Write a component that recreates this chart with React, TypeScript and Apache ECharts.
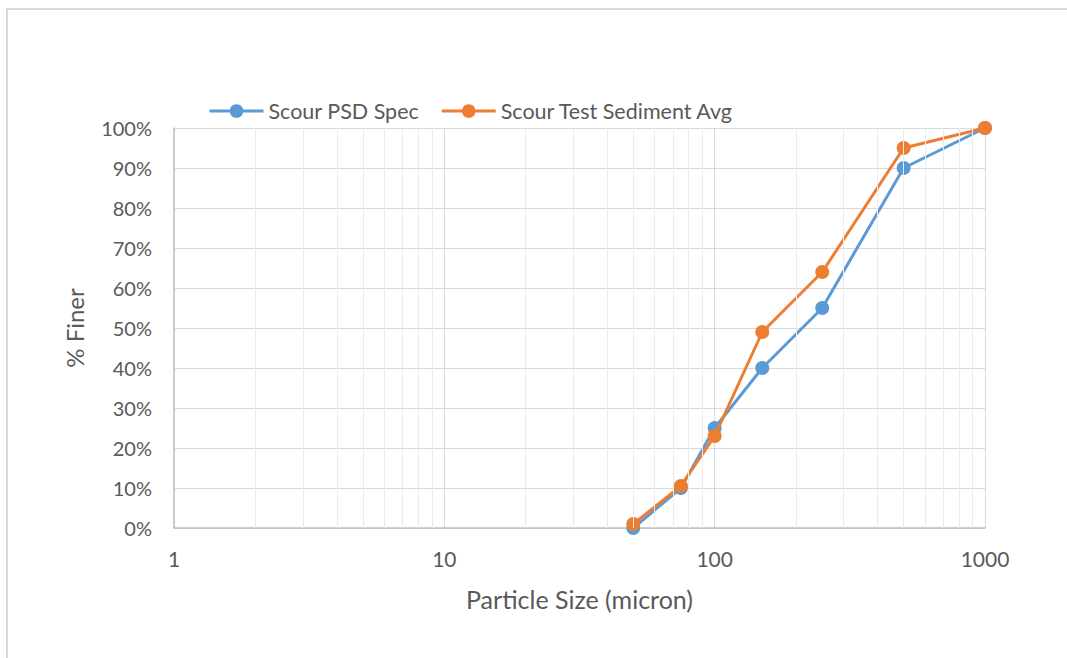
import React, { useEffect, useRef } from "react";
import * as echarts from "echarts";

const sizes = [50, 75, 100, 150, 250, 500, 1000];
const psdSpec = [0, 10, 25, 40, 55, 90, 100];
const testAvg = [1, 10.5, 23, 49, 64, 95, 100];
const xTickLabels = ["1", "10", "100", "1000"];
const minorGrid = [2, 3, 4, 5, 6, 7, 8, 9, 20, 30, 40, 50, 60, 70, 80, 90, 200, 300, 400, 500, 600, 700, 800, 900];

const FONT = "Lato, 'Open Sans', sans-serif";
const TXT = "#595959";

export default function App() {
  const ref = useRef<HTMLDivElement>(null);
  useEffect(() => {
    if (!ref.current) return;
    const chart = echarts.init(ref.current, undefined, { renderer: "svg" });
    chart.setOption({
      animation: false,
      backgroundColor: "#ffffff",
      textStyle: { fontFamily: FONT },
      graphic: [
        {
          type: "rect",
          shape: { x: 7, y: 9, width: 1100, height: 700 },
          style: { fill: "none", stroke: "#d9d9d9", lineWidth: 2 },
          silent: true,
        },
      ],
      legend: {
        top: 100,
        left: 208,
        padding: 0,
        itemWidth: 54,
        itemHeight: 17,
        itemGap: 21,
        lineStyle: { width: 3 },
        textStyle: { fontFamily: FONT, fontSize: 21.5, color: TXT },
        data: ["Scour PSD Spec", "Scour Test Sediment Avg"],
      },
      grid: { left: 174, right: 82, top: 128, bottom: 130, containLabel: false },
      xAxis: {
        type: "log",
        logBase: 10,
        min: 1,
        max: 1000,
        name: "Particle Size (micron)",
        nameLocation: "middle",
        nameGap: 58,
        nameTextStyle: { fontFamily: FONT, fontSize: 25, color: TXT },
        axisLine: { lineStyle: { color: "#bfbfbf", width: 1.5 } },
        axisTick: { show: false },
        axisLabel: {
          fontFamily: FONT,
          fontSize: 21,
          color: TXT,
          margin: 20,
          formatter: (v: number) => {
            const s = String(Math.round(v));
            return xTickLabels.includes(s) ? s : "";
          },
        },
        splitLine: { show: true, lineStyle: { color: "#d9d9d9", width: 1 } },
        minorTick: { show: false },
        minorSplitLine: { show: false },
      },
      yAxis: {
        type: "value",
        min: 0,
        max: 100,
        interval: 10,
        name: "% Finer",
        nameLocation: "middle",
        nameGap: 88,
        nameRotate: 90,
        nameTextStyle: { fontFamily: FONT, fontSize: 24, color: TXT },
        axisLine: { show: true, lineStyle: { color: "#bfbfbf", width: 1.5 } },
        axisTick: { show: false },
        axisLabel: {
          fontFamily: FONT,
          fontSize: 20,
          color: TXT,
          margin: 22,
          formatter: "{value}%",
        },
        splitLine: { show: true, lineStyle: { color: "#d9d9d9", width: 1 } },
      },
      series: [
        {
          name: "grid-minor",
          type: "line",
          data: [],
          silent: true,
          markLine: {
            silent: true,
            symbol: ["none", "none"],
            label: { show: false },
            lineStyle: { color: "#ebebeb", width: 1, type: "solid" },
            data: minorGrid.map((v) => ({ xAxis: v })),
          },
          z: 1,
        },
        {
          name: "Scour PSD Spec",
          type: "line",
          data: sizes.map((s, i) => [s, psdSpec[i]]),
          symbol: "circle",
          symbolSize: 14,
          itemStyle: { color: "#5b9bd5" },
          lineStyle: { color: "#5b9bd5", width: 3 },
          z: 3,
        },
        {
          name: "Scour Test Sediment Avg",
          type: "line",
          data: sizes.map((s, i) => [s, testAvg[i]]),
          symbol: "circle",
          symbolSize: 14,
          itemStyle: { color: "#ed7d31" },
          lineStyle: { color: "#ed7d31", width: 3 },
          z: 4,
        },
      ],
    });
    return () => chart.dispose();
  }, []);
  return (
    <div
      ref={ref}
      style={{ position: "fixed", left: 0, top: 0, width: 1067, height: 658 }}
    />
  );
}
